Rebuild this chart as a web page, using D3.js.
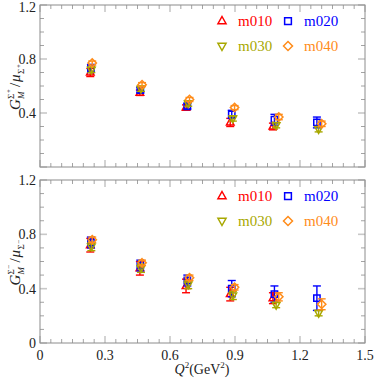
<!DOCTYPE html>
<html>
<head>
<meta charset="utf-8">
<script src="https://cdn.jsdelivr.net/npm/d3@7"></script>
<style>
  body { margin: 0; background: #fff; }
  text { font-family: "Liberation Serif", "DejaVu Serif", serif; }
</style>
</head>
<body>
<svg id="chart" width="374" height="380"></svg>
<script>
const series = ["m010", "m020", "m030", "m040"]
const colors = ["#ff0000", "#0000ff", "#a8a800", "#ff8c1a"]
const symbols = ["up", "square", "down", "diamond"]

// Q^2 values per series (GeV^2)
const q2 = [
  [0.232, 0.461, 0.674, 0.878, 1.075],
  [0.235, 0.463, 0.680, 0.885, 1.082, 1.278],
  [0.237, 0.466, 0.684, 0.890, 1.090, 1.286],
  [0.241, 0.471, 0.690, 0.898, 1.102, 1.300]
]

// top panel: G_M^{Sigma+}/mu
const topVal = [
  [0.70, 0.55, 0.44, 0.33, 0.30],
  [0.73, 0.57, 0.45, 0.39, 0.35, 0.33],
  [0.72, 0.58, 0.47, 0.36, 0.31, 0.28],
  [0.77, 0.61, 0.50, 0.44, 0.37, 0.32]
]
const topErr = [
  [0.03, 0.02, 0.02, 0.03, 0.025],
  [0.03, 0.02, 0.02, 0.03, 0.04, 0.04],
  [0.02, 0.02, 0.02, 0.02, 0.02, 0.02],
  [0.015, 0.015, 0.015, 0.015, 0.02, 0.02]
]

// bottom panel: G_M^{Sigma-}/mu
const botVal = [
  [0.72, 0.55, 0.42, 0.36, 0.33],
  [0.74, 0.57, 0.46, 0.40, 0.36, 0.33],
  [0.71, 0.55, 0.43, 0.35, 0.28, 0.22],
  [0.76, 0.59, 0.48, 0.41, 0.34, 0.285]
]
const botErr = [
  [0.05, 0.05, 0.05, 0.05, 0.04],
  [0.04, 0.04, 0.04, 0.06, 0.06, 0.09],
  [0.03, 0.03, 0.03, 0.03, 0.02, 0.02],
  [0.02, 0.02, 0.02, 0.02, 0.03, 0.04]
]

const xTicks = [0, 0.3, 0.6, 0.9, 1.2, 1.5]
const yTicksTop = [0.4, 0.8, 1.2]
const yTicksBot = [0, 0.4, 0.8, 1.2]

const svg = d3.select("#chart")
const left = 40, right = 365
const x = d3.scaleLinear().domain([0, 1.5]).range([left, right])

const frameColor = "#8c8c8c"

function symbolPath(kind, cx, cy, r) {
  if (kind === "up") {
    return `M${cx},${cy - r}L${cx + r * 0.9},${cy + r * 0.6}L${cx - r * 0.9},${cy + r * 0.6}Z`
  } else if (kind === "down") {
    return `M${cx},${cy + r}L${cx + r * 0.9},${cy - r * 0.6}L${cx - r * 0.9},${cy - r * 0.6}Z`
  } else if (kind === "square") {
    let s = r * 0.75
    return `M${cx - s},${cy - s}H${cx + s}V${cy + s}H${cx - s}Z`
  } else {
    return `M${cx},${cy - r}L${cx + r},${cy}L${cx},${cy + r}L${cx - r},${cy}Z`
  }
}

function drawPanel(top, bottom, yTicks, vals, errs, legendY, supSign, showX) {
  const y = d3.scaleLinear().domain([0, 1.2]).range([bottom, top])
  const g = svg.append("g")

  // minor ticks
  const xMinor = d3.range(0, 1.5001, 0.05)
  const yMinor = d3.range(0, 1.2001, 0.1)
  xMinor.forEach(v => {
    const major = Math.abs(v / 0.3 - Math.round(v / 0.3)) < 1e-6
    const len = major ? 7 : 4
    g.append("line").attr("x1", x(v)).attr("x2", x(v)).attr("y1", bottom).attr("y2", bottom - len)
      .attr("stroke", major ? "#c8c8c8" : frameColor).attr("stroke-width", major ? 1.6 : 0.8)
    g.append("line").attr("x1", x(v)).attr("x2", x(v)).attr("y1", top).attr("y2", top + len)
      .attr("stroke", major ? "#c8c8c8" : frameColor).attr("stroke-width", major ? 1.6 : 0.8)
  })
  yMinor.forEach(v => {
    const major = Math.abs(v / 0.4 - Math.round(v / 0.4)) < 1e-6
    const len = major ? 7 : 4
    g.append("line").attr("y1", y(v)).attr("y2", y(v)).attr("x1", left).attr("x2", left + len)
      .attr("stroke", major ? "#c8c8c8" : frameColor).attr("stroke-width", major ? 1.6 : 0.8)
    g.append("line").attr("y1", y(v)).attr("y2", y(v)).attr("x1", right).attr("x2", right - len)
      .attr("stroke", major ? "#c8c8c8" : frameColor).attr("stroke-width", major ? 1.6 : 0.8)
  })

  g.append("rect").attr("x", left).attr("y", top).attr("width", right - left).attr("height", bottom - top)
    .attr("fill", "none").attr("stroke", frameColor).attr("stroke-width", 1)

  yTicks.forEach(v => {
    g.append("text").attr("x", left - 4).attr("y", Math.max(y(v) + 5, 12)).attr("text-anchor", "end")
      .attr("font-size", 14).attr("fill", "#222").text(d3.format("")(v))
  })
  if (showX) {
    xTicks.forEach(v => {
      g.append("text").attr("x", x(v)).attr("y", bottom + 17).attr("text-anchor", "middle")
        .attr("font-size", 14).attr("fill", "#222").text(v)
    })
  }

  // data
  series.forEach((s, i) => {
    const c = colors[i]
    q2[i].forEach((q, j) => {
      const cx = x(q), cy = y(vals[i][j]), e = errs[i][j]
      const y1 = y(vals[i][j] - e), y2 = y(vals[i][j] + e)
      g.append("line").attr("x1", cx).attr("x2", cx).attr("y1", y1).attr("y2", y2)
        .attr("stroke", c).attr("stroke-width", 1.4)
      ;[y1, y2].forEach(yy => g.append("line").attr("x1", cx - 4).attr("x2", cx + 4)
        .attr("y1", yy).attr("y2", yy).attr("stroke", c).attr("stroke-width", 1.4))
      g.append("path").attr("d", symbolPath(symbols[i], cx, cy, 4.2))
        .attr("fill", "none").attr("stroke", c).attr("stroke-width", 1.5)
    })
  })

  // legend
  series.forEach((s, i) => {
    const lx = i % 2 === 0 ? 222 : 288
    const ly = legendY + Math.floor(i / 2) * 25
    g.append("path").attr("d", symbolPath(symbols[i], lx, ly, 4.5))
      .attr("fill", "none").attr("stroke", colors[i]).attr("stroke-width", 1.5)
    g.append("text").attr("x", lx + 16).attr("y", ly + 5).attr("font-size", 15)
      .attr("fill", colors[i]).text(s)
  })

  // y label
  const cy = (top + bottom) / 2 - 3
  const lab = g.append("g").attr("transform", `translate(20,${cy}) rotate(-90)`)
  const t = lab.append("text").attr("font-size", 15).attr("fill", "#222")
  t.append("tspan").attr("x", -27).attr("y", 0).attr("font-style", "italic").text("G")
  t.append("tspan").attr("x", -16).attr("y", 4).attr("font-size", 9).attr("font-style", "italic").text("M")
  t.append("tspan").attr("x", -16).attr("y", -6).attr("font-size", 9).text("Σ")
  t.append("tspan").attr("x", -10).attr("y", -9).attr("font-size", 7).text(supSign)
  t.append("tspan").attr("x", -4).attr("y", 0).text("/")
  t.append("tspan").attr("x", 1).attr("y", 0).attr("font-style", "italic").text("μ")
  t.append("tspan").attr("x", 9).attr("y", 4).attr("font-size", 9).text("Σ")
  t.append("tspan").attr("x", 15).attr("y", 1).attr("font-size", 7).text(supSign)
}

drawPanel(5, 167, yTicksTop, topVal, topErr, 21, "+", false)
drawPanel(180, 343, yTicksBot, botVal, botErr, 196, "−", true)

// x label
const xl = svg.append("text").attr("x", 202).attr("y", 374).attr("text-anchor", "middle")
  .attr("font-size", 14).attr("fill", "#222")
xl.append("tspan").attr("font-style", "italic").text("Q")
xl.append("tspan").attr("font-size", 9).attr("dy", -6).text("2")
xl.append("tspan").attr("dy", 6).text("(GeV")
xl.append("tspan").attr("font-size", 9).attr("dy", -6).text("2")
xl.append("tspan").attr("dy", 6).text(")")
</script>
</body>
</html>
